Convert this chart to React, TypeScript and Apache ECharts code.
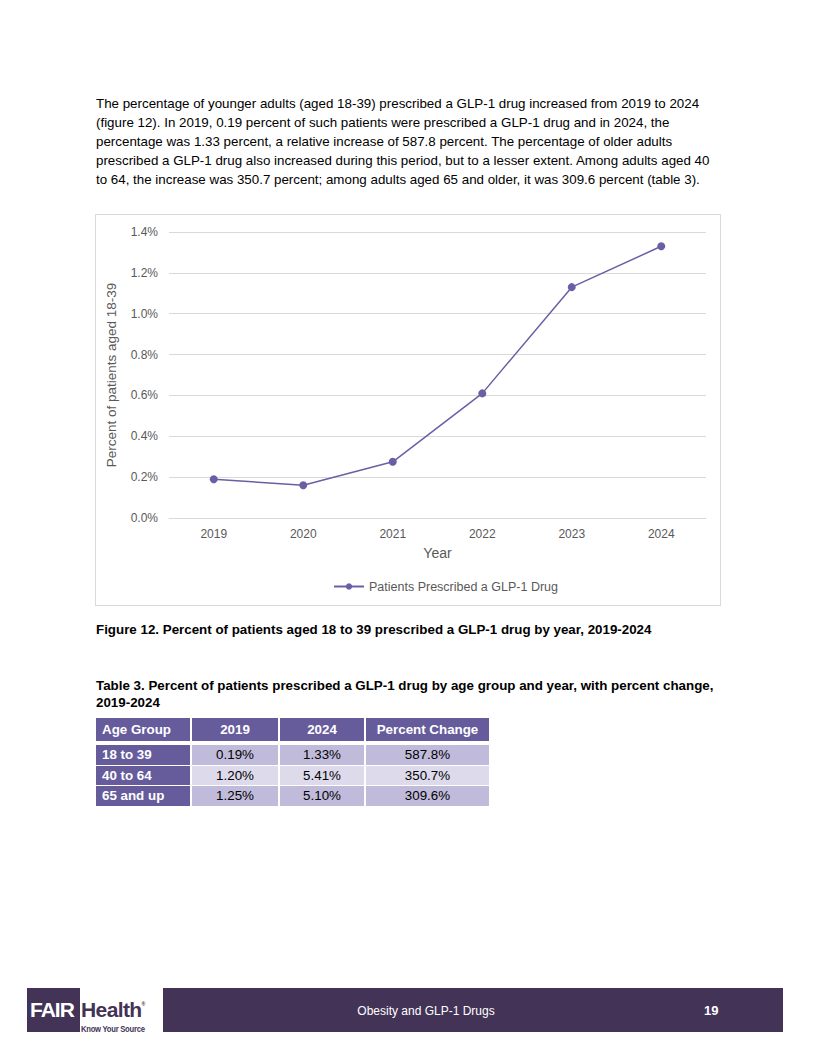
import React, { useEffect, useRef } from "react";
import * as echarts from "echarts";

const years = ["2019", "2020", "2021", "2022", "2023", "2024"];
const percentValues = [0.19, 0.16, 0.275, 0.61, 1.13, 1.33];
const yTicks = { min: 0, max: 1.4, interval: 0.2 };
const seriesName = "Patients Prescribed a GLP-1 Drug";

const tableHeader = ["Age Group", "2019", "2024", "Percent Change"];
const ageGroups = ["18 to 39", "40 to 64", "65 and up"];
const pct2019 = ["0.19%", "1.20%", "1.25%"];
const pct2024 = ["1.33%", "5.41%", "5.10%"];
const pctChange = ["587.8%", "350.7%", "309.6%"];

const paragraphLines = [
  "The percentage of younger adults (aged 18-39) prescribed a GLP-1 drug increased from 2019 to 2024",
  "(figure 12). In 2019, 0.19 percent of such patients were prescribed a GLP-1 drug and in 2024, the",
  "percentage was 1.33 percent, a relative increase of 587.8 percent. The percentage of older adults",
  "prescribed a GLP-1 drug also increased during this period, but to a lesser extent. Among adults aged 40",
  "to 64, the increase was 350.7 percent; among adults aged 65 and older, it was 309.6 percent (table 3).",
];

const FONT = "'Liberation Sans', Arial, Helvetica, sans-serif";
const PURPLE = "#6a5fa5";
const HEADER = "#665c9c";
const DARK = "#433356";
const FS = 13.35;

function Chart() {
  const ref = useRef<HTMLDivElement>(null);
  useEffect(() => {
    if (!ref.current) return;
    const chart = echarts.init(ref.current, null, { renderer: "svg" });
    chart.setOption({
      animation: false,
      textStyle: { fontFamily: FONT },
      grid: { left: 73, right: 14, top: 17, bottom: 87 },
      legend: {
        top: 360,
        left: 232,
        itemWidth: 30,
        itemHeight: 8,
        itemGap: 5,
        textStyle: { color: "#595959", fontSize: 12.5, fontFamily: FONT },
        data: [seriesName],
      },
      xAxis: {
        type: "category",
        data: years,
        boundaryGap: true,
        name: "Year",
        nameLocation: "middle",
        nameGap: 28,
        nameTextStyle: { color: "#595959", fontSize: 14, fontFamily: FONT },
        axisLine: { lineStyle: { color: "#d9d9d9" } },
        axisTick: { show: false },
        axisLabel: { color: "#595959", fontSize: 12, margin: 10, fontFamily: FONT },
      },
      yAxis: {
        type: "value",
        min: yTicks.min,
        max: yTicks.max,
        interval: yTicks.interval,
        name: "Percent of patients aged 18-39",
        nameLocation: "middle",
        nameGap: 51,
        nameTextStyle: { color: "#595959", fontSize: 13.5, fontFamily: FONT },
        axisLine: { show: false },
        axisTick: { show: false },
        axisLabel: {
          color: "#595959",
          fontSize: 12,
          margin: 11,
          fontFamily: FONT,
          formatter: (v: number) => v.toFixed(1) + "%",
        },
        splitLine: { lineStyle: { color: "#d9d9d9" } },
      },
      series: [
        {
          name: seriesName,
          type: "line",
          data: percentValues,
          symbol: "circle",
          symbolSize: 8,
          itemStyle: { color: PURPLE },
          lineStyle: { color: PURPLE, width: 1.5 },
        },
      ],
    });
    return () => chart.dispose();
  }, []);
  return <div ref={ref} style={{ width: 624, height: 390 }} />;
}

const abs = (left: number, top: number, extra: React.CSSProperties = {}): React.CSSProperties => ({
  position: "absolute",
  left,
  top,
  ...extra,
});

export default function App() {
  const colX = [96, 192, 280, 366];
  const colW = [94, 86, 84, 123];
  const rowTop = [745, 765.5, 786];
  const rowH = 19.5;
  const rowBg = ["#c0bbda", "#dddbeb", "#c0bbda"];
  return (
    <div
      style={{
        position: "absolute",
        left: 0,
        top: 0,
        width: 816,
        height: 1056,
        background: "#fff",
        fontFamily: FONT,
        color: "#000",
        overflow: "hidden",
      }}
    >
      <div style={abs(96, 94, { fontSize: FS, lineHeight: "19px", whiteSpace: "nowrap" })}>
        {paragraphLines.map((l, i) => (
          <div key={i}>{l}</div>
        ))}
      </div>

      <div style={abs(96, 215, { width: 624, height: 390, outline: "1px solid #d9d9d9" })}>
        <Chart />
      </div>

      <div style={abs(96, 622, { fontSize: FS, fontWeight: "bold", whiteSpace: "nowrap" })}>
        Figure 12. Percent of patients aged 18 to 39 prescribed a GLP-1 drug by year, 2019-2024
      </div>

      <div style={abs(96, 677, { fontSize: FS, fontWeight: "bold", lineHeight: "17px", whiteSpace: "nowrap" })}>
        <div>Table 3. Percent of patients prescribed a GLP-1 drug by age group and year, with percent change,</div>
        <div>2019-2024</div>
      </div>

      {tableHeader.map((h, c) => (
        <div
          key={"h" + c}
          style={abs(colX[c], 718, {
            width: colW[c],
            height: 23,
            background: HEADER,
            color: "#fff",
            fontWeight: "bold",
            fontSize: FS,
            lineHeight: "23px",
            textAlign: c === 0 ? "left" : "center",
            paddingLeft: c === 0 ? 6 : 0,
            boxSizing: "border-box",
            whiteSpace: "nowrap",
          })}
        >
          {h}
        </div>
      ))}

      {ageGroups.map((g, r) => {
        const cells = [g, pct2019[r], pct2024[r], pctChange[r]];
        return cells.map((v, c) => (
          <div
            key={"r" + r + "c" + c}
            style={abs(colX[c], rowTop[r], {
              width: colW[c],
              height: rowH,
              background: c === 0 ? HEADER : rowBg[r],
              color: c === 0 ? "#fff" : "#000",
              fontWeight: c === 0 ? "bold" : "normal",
              fontSize: FS,
              lineHeight: rowH + "px",
              textAlign: c === 0 ? "left" : "center",
              paddingLeft: c === 0 ? 6 : 0,
              boxSizing: "border-box",
              whiteSpace: "nowrap",
            })}
          >
            {v}
          </div>
        ));
      })}

      {/* footer logo */}
      <div style={abs(27, 988, { width: 53, height: 44, background: DARK })} />
      <div
        style={abs(30, 999, {
          color: "#fff",
          fontWeight: "bold",
          fontSize: 21,
          letterSpacing: -1,
          lineHeight: "22px",
        })}
      >
        FAIR
      </div>
      <div
        style={abs(81, 999, {
          color: DARK,
          fontWeight: "bold",
          fontSize: 21,
          letterSpacing: -0.6,
          lineHeight: "22px",
          whiteSpace: "nowrap",
        })}
      >
        Health
        <span style={{ fontSize: 5, verticalAlign: "top", lineHeight: "10px" }}>®</span>
      </div>
      <div
        style={abs(81, 1024, {
          color: DARK,
          fontWeight: "bold",
          fontSize: 9,
          letterSpacing: -0.3,
          lineHeight: "10px",
          whiteSpace: "nowrap",
          transform: "scaleX(0.85)",
          transformOrigin: "left top",
        })}
      >
        Know Your Source
      </div>

      <div style={abs(163, 988, { width: 620, height: 44, background: DARK })} />
      <div
        style={abs(163, 988, {
          width: 526,
          height: 44,
          color: "#fff",
          fontSize: 12,
          lineHeight: "46px",
          textAlign: "center",
        })}
      >
        Obesity and GLP-1 Drugs
      </div>
      <div
        style={abs(704, 988, {
          color: "#fff",
          fontSize: 13,
          fontWeight: "bold",
          lineHeight: "46px",
        })}
      >
        19
      </div>
    </div>
  );
}
